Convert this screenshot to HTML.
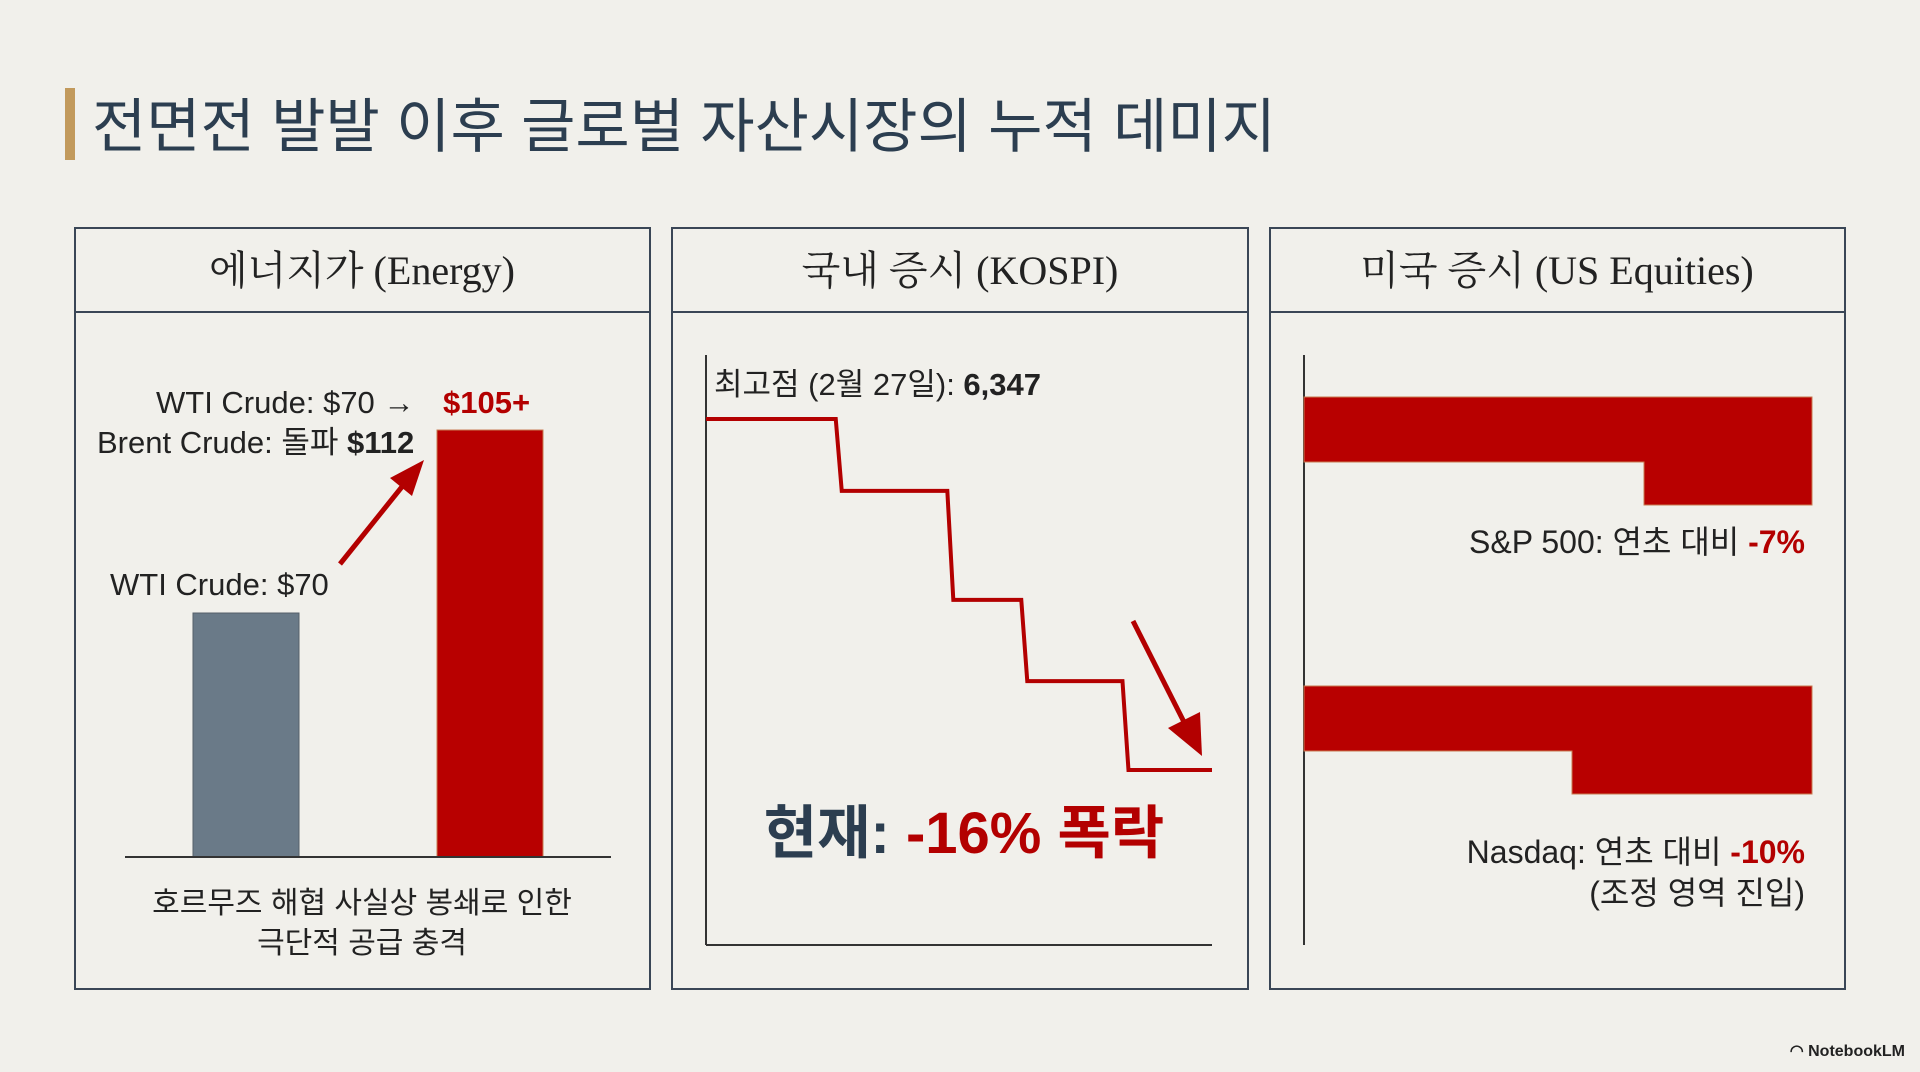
<!DOCTYPE html>
<html><head><meta charset="utf-8"><style>
html,body{margin:0;padding:0;background:#f1f0eb;}
svg{display:block}
.sans{font-family:"Liberation Sans","Noto Sans CJK KR",sans-serif}
.serif{font-family:"Liberation Serif","Noto Serif CJK SC",serif}
</style></head><body>
<svg id="s" width="1920" height="1072" viewBox="0 0 1920 1072" xmlns="http://www.w3.org/2000/svg">
<rect x="0" y="0" width="1920" height="1072" fill="#f1f0eb"/>
<rect x="65" y="88" width="10" height="72" fill="#c29a5c"/>
<text x="92" y="147" class="sans" font-size="59" fill="#2c3e50">전면전 발발 이후 글로벌 자산시장의 누적 데미지</text>

<g>
<rect x="75" y="228" width="575" height="761" fill="none" stroke="#3a4656" stroke-width="2"/>
<line x1="75" y1="312" x2="650" y2="312" stroke="#3a4656" stroke-width="2"/>
<text x="362" y="284" text-anchor="middle" class="serif" font-size="40" fill="#222">에너지가 (Energy)</text>
<g id="energyChart"></g>
<text x="156" y="413" class="sans" font-size="31" fill="#222">WTI Crude: $70 →</text>
<text x="443" y="413" class="sans" font-size="31" fill="#b30000" font-weight="bold">$105+</text>
<text x="97" y="453" class="sans" font-size="31" fill="#222">Brent Crude: 돌파 <tspan font-weight="bold">$112</tspan></text>
<text x="110" y="595" class="sans" font-size="31" fill="#222">WTI Crude: $70</text>
<line x1="340" y1="564" x2="405" y2="483" stroke="#b30000" stroke-width="5"/>
<polygon points="424,460 390,478 412,496" fill="#b30000"/>
<text x="362" y="913" text-anchor="middle" class="sans" font-size="30" fill="#222">호르무즈 해협 사실상 봉쇄로 인한</text>
<text x="362" y="953" text-anchor="middle" class="sans" font-size="30" fill="#222">극단적 공급 충격</text>
</g>

<g>
<rect x="672" y="228" width="576" height="761" fill="none" stroke="#3a4656" stroke-width="2"/>
<line x1="672" y1="312" x2="1248" y2="312" stroke="#3a4656" stroke-width="2"/>
<text x="960" y="284" text-anchor="middle" class="serif" font-size="40" fill="#222">국내 증시 (KOSPI)</text>
<line x1="706" y1="355" x2="706" y2="945" stroke="#333" stroke-width="2"/>
<line x1="706" y1="945" x2="1212" y2="945" stroke="#333" stroke-width="2"/>
<g id="kospiChart"></g>
<text x="714" y="395" class="sans" font-size="31" fill="#222">최고점 (2월 27일): <tspan font-weight="bold">6,347</tspan></text>
<line x1="1133" y1="621" x2="1185" y2="724" stroke="#b30000" stroke-width="5"/>
<polygon points="1202,756 1168,728 1200,712" fill="#b30000"/>
<text x="964" y="853" text-anchor="middle" class="sans" font-size="58" font-weight="bold" fill="#2c3e50">현재: <tspan fill="#b30000">-16% 폭락</tspan></text>
</g>

<g>
<rect x="1270" y="228" width="575" height="761" fill="none" stroke="#3a4656" stroke-width="2"/>
<line x1="1270" y1="312" x2="1845" y2="312" stroke="#3a4656" stroke-width="2"/>
<text x="1557" y="284" text-anchor="middle" class="serif" font-size="40" fill="#222">미국 증시 (US Equities)</text>
<line x1="1304" y1="355" x2="1304" y2="945" stroke="#333" stroke-width="2"/>
<g id="usChart"></g>
<text x="1805" y="553" text-anchor="end" class="sans" font-size="32" fill="#222">S&amp;P 500: 연초 대비 <tspan fill="#b30000" font-weight="bold">-7%</tspan></text>
<text x="1805" y="863" text-anchor="end" class="sans" font-size="32" fill="#222">Nasdaq: 연초 대비 <tspan fill="#b30000" font-weight="bold">-10%</tspan></text>
<text x="1805" y="904" text-anchor="end" class="sans" font-size="32" fill="#222">(조정 영역 진입)</text>
</g>

<text x="1905" y="1056" text-anchor="end" class="sans" font-size="16" font-weight="bold" fill="#222">◠ NotebookLM</text>
</svg>
<script>
const NS='http://www.w3.org/2000/svg';
// Energy chart data
const energyCategories=['WTI before','Crude after'];
const energyValues=[70,112];
const energyColors=['#6a7a88','#b80000'];
// KOSPI step data
const kospiDays=[0,10,18.6,24.3,32.1,39];
const kospiValues=[6347,6139,5824,5589,5332];
// US equities data
const usCategories=['S&P 500','Nasdaq'];
const usDeclines=[-7,-10];

function mk(tag,attrs,parent){const e=document.createElementNS(NS,tag);for(const k in attrs)e.setAttribute(k,attrs[k]);parent.appendChild(e);return e;}

// energy
const eg=document.getElementById('energyChart');
const eBase=857, eX0=193, eStep=244, eW=106;
function eY(v){return eBase-(v-14)*4.357;}
energyValues.forEach((v,i)=>{
  const r=mk('rect',{x:eX0+i*eStep,y:eY(v),width:eW,height:eBase-eY(v),fill:energyColors[i],stroke:i?'#c87a50':'#55606a','stroke-width':1},eg);
  
  
});
const eb=mk('line',{x1:125,y1:eBase,x2:611,y2:eBase,stroke:'#333','stroke-width':2},eg);



// kospi
const kg=document.getElementById('kospiChart');
function kX(d){return 706+d/39*506;}
function kY(v){return 419+(6347-v)/1015*351;}
let pts=[];
kospiValues.forEach((v,i)=>{
  const xa=i===0?kX(kospiDays[i]):kX(kospiDays[i])+6;
  pts.push(xa+','+kY(v));
  pts.push(kX(kospiDays[i+1])+','+kY(v));
});
const kl=mk('polyline',{points:pts.join(' '),fill:'none',stroke:'#b30000','stroke-width':4},kg);



// us
const ug=document.getElementById('usChart');
const uTop=[397,686], uRight=1812, uPxPct=24, uBand=65, uExt=43;
usDeclines.forEach((d,i)=>{
  const ew=Math.abs(d)*uPxPct;
  const y=uTop[i];
  const p=[[1304,y],[uRight,y],[uRight,y+uBand+uExt],[uRight-ew,y+uBand+uExt],[uRight-ew,y+uBand],[1304,y+uBand]].map(a=>a.join(',')).join(' ');
  const s=mk('polygon',{points:p,fill:'#b80000',stroke:'#c87a50','stroke-width':1},ug);
  
  
});
</script>
</body></html>
